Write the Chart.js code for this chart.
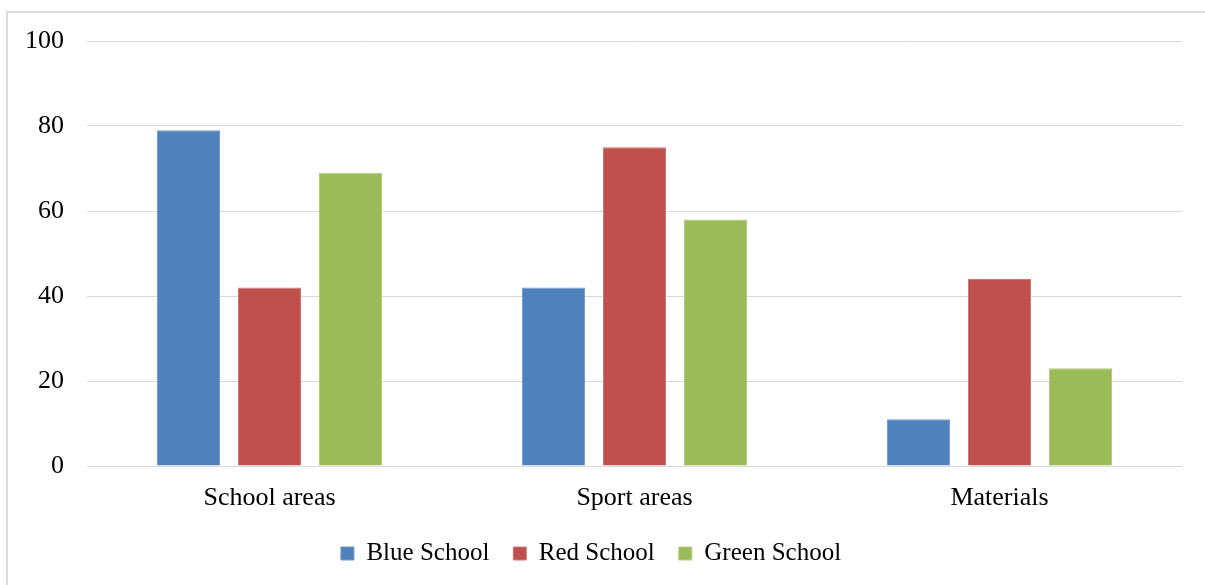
<!DOCTYPE html>
<html>
<head>
<meta charset="utf-8">
<script src="https://cdnjs.cloudflare.com/ajax/libs/Chart.js/4.4.0/chart.umd.min.js"></script>
<style>
  html, body { margin: 0; padding: 0; background: #fff; overflow: hidden; }
  #wrap { position: relative; width: 1205px; height: 585px; overflow: hidden; }
  #frame {
    position: absolute; left: 6px; top: 11px; width: 1300px; height: 700px;
    border-top: 2px solid #dcdcdc; border-left: 2px solid #dcdcdc;
  }
  #box { position: absolute; left: 0; top: 0; width: 1205px; height: 580px; }
</style>
</head>
<body>
<div id="wrap">
  <div id="frame"></div>
  <div id="box"><canvas id="chart"></canvas></div>
</div>
<script>
// ── Data ─────────────────────────────────────────────────────────────────────
const categories = ['School areas', 'Sport areas', 'Materials'];
const blueSchool  = [79, 42, 11];
const redSchool   = [42, 75, 44];
const greenSchool = [69, 58, 23];
const yTicks = [0, 20, 40, 60, 80, 100];

// ── Style ────────────────────────────────────────────────────────────────────
const FONT = "'Liberation Serif', 'Times New Roman', serif";
Chart.defaults.font.family = FONT;
Chart.defaults.color = '#000';

const GRID = '#d9d9d9';

function series(label, data, fill, edge) {
  return {
    label, data,
    backgroundColor: fill,
    borderColor: edge,
    borderWidth: 1,
    categoryPercentage: 0.666,
    barPercentage: 0.778,
  };
}

new Chart(document.getElementById('chart'), {
  type: 'bar',
  data: {
    labels: categories,
    datasets: [
      series('Blue School',  blueSchool,  '#4f81bd', '#7199cc'),
      series('Red School',   redSchool,   '#c0504d', '#cf7774'),
      series('Green School', greenSchool, '#9bbb59', '#b1cb7e'),
    ]
  },
  options: {
    responsive: true,
    maintainAspectRatio: false,
    animation: false,
    layout: { padding: { top: 41, right: 23, bottom: 4, left: 0 } },
    scales: {
      x: {
        grid: { display: false },
        border: { display: false },
        ticks: { font: { size: 26 }, padding: 9, color: '#000' },
        afterFit: s => { s.height = 51; },
      },
      y: {
        min: 0, max: 100,
        afterBuildTicks: s => { s.ticks = yTicks.map(v => ({ value: v })); },
        grid: { color: GRID, lineWidth: 1, drawTicks: false },
        border: { display: false },
        ticks: { font: { size: 26 }, padding: 23, color: '#000' },
        afterFit: s => { s.width = 87; },
      }
    },
    plugins: {
      legend: {
        position: 'bottom',
        labels: { boxWidth: 13, boxHeight: 13, font: { size: 25 }, padding: 24, color: '#000' }
      },
      tooltip: { enabled: false }
    }
  }
});
</script>
</body>
</html>
